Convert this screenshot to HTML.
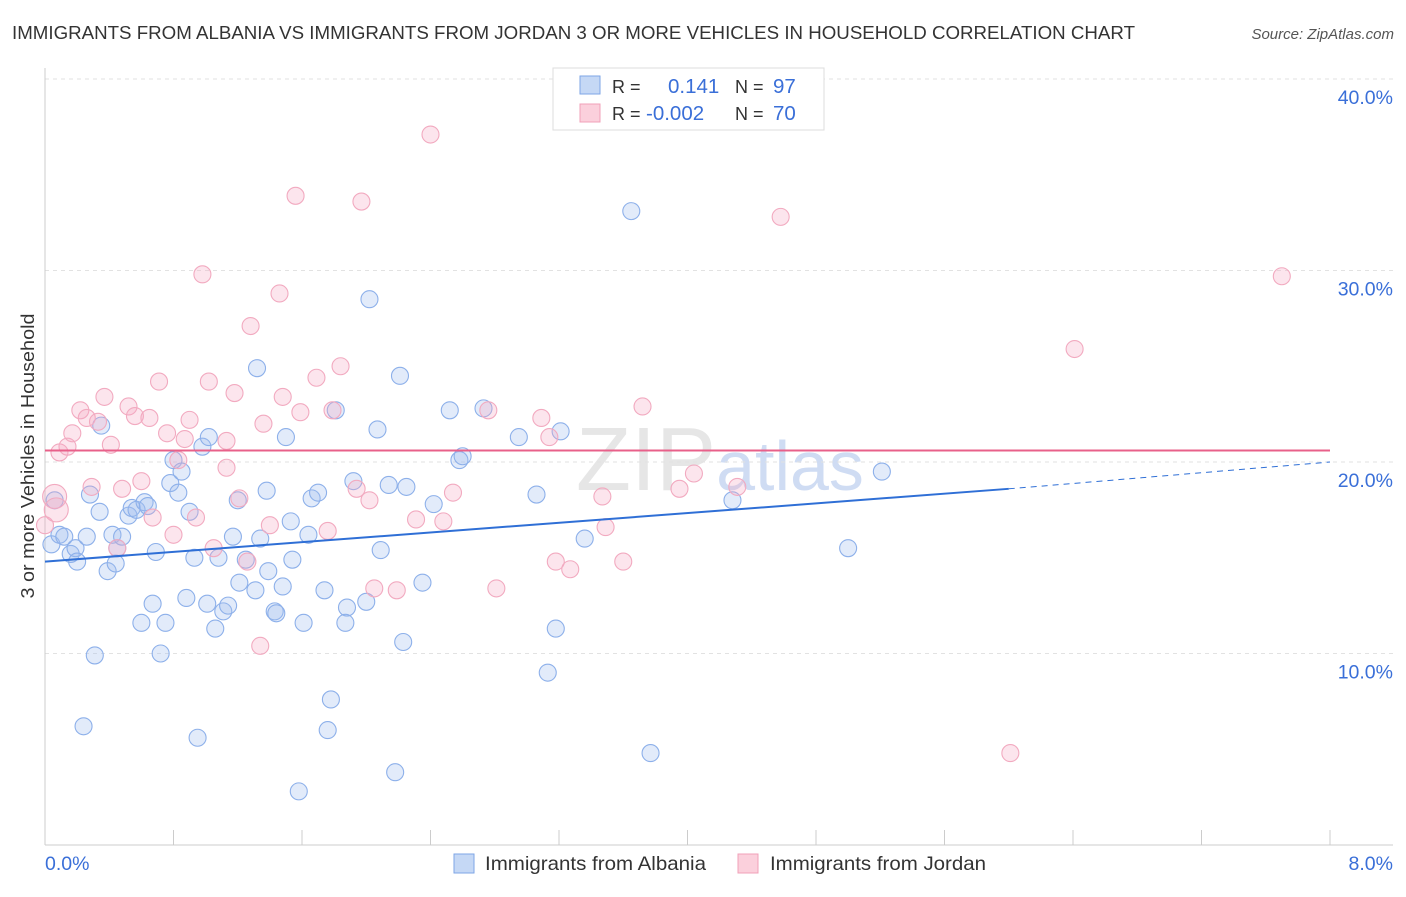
<!DOCTYPE html>
<html><head><meta charset="utf-8"><style>
body{margin:0;background:#fff;font-family:"Liberation Sans",sans-serif;}
svg text{font-family:"Liberation Sans",sans-serif;}
</style></head><body>
<svg id="chart" width="1406" height="892">
<text x="12" y="39" font-size="18.5" fill="#333" textLength="1123" lengthAdjust="spacingAndGlyphs">IMMIGRANTS FROM ALBANIA VS IMMIGRANTS FROM JORDAN 3 OR MORE VEHICLES IN HOUSEHOLD CORRELATION CHART</text>
<text x="1394" y="39" font-size="15" fill="#555" text-anchor="end" font-style="italic">Source: ZipAtlas.com</text>
<text x="720" y="490" font-size="90" fill="#e6e6e6" text-anchor="middle" font-family="Liberation Serif">ZIP<tspan fill="#cfdcf3" font-family="Liberation Sans" font-size="70">atlas</tspan></text>
<g id="grid"></g><g id="axes"></g><g id="marks"></g>
<text transform="translate(34,456) rotate(-90)" font-size="18.5" fill="#333" text-anchor="middle" textLength="285" lengthAdjust="spacingAndGlyphs">3 or more Vehicles in Household</text>
<text x="45" y="870" font-size="19.5" fill="#3a6fd8">0.0%</text>
<text x="1393" y="870" font-size="19.5" fill="#3a6fd8" text-anchor="end">8.0%</text>
<g>
<rect x="553" y="68" width="271" height="62" fill="#fff" stroke="#ddd"/>
<rect x="580" y="76" width="20" height="18" fill="#c5d8f5" stroke="#7ea6e6"/>
<rect x="580" y="104" width="20" height="18" fill="#fbd0dc" stroke="#f0a0b8"/>
<text x="612" y="93" font-size="18" fill="#333">R =</text><text x="668" y="93" font-size="20.5" fill="#3a6fd8">0.141</text>
<text x="735" y="93" font-size="18" fill="#333">N =</text><text x="773" y="93" font-size="20.5" fill="#3a6fd8">97</text>
<text x="612" y="120" font-size="18" fill="#333">R =</text><text x="646" y="120" font-size="20.5" fill="#3a6fd8">-0.002</text>
<text x="735" y="120" font-size="18" fill="#333">N =</text><text x="773" y="120" font-size="20.5" fill="#3a6fd8">70</text>
</g>
<g>
<rect x="454" y="854" width="20" height="19" fill="#c5d8f5" stroke="#7ea6e6"/>
<text x="485" y="870" font-size="19.5" fill="#333" textLength="221" lengthAdjust="spacingAndGlyphs">Immigrants from Albania</text>
<rect x="738" y="854" width="20" height="19" fill="#fbd0dc" stroke="#f0a0b8"/>
<text x="770" y="870" font-size="19.5" fill="#333" textLength="216" lengthAdjust="spacingAndGlyphs">Immigrants from Jordan</text>
</g>
</svg>
<script>
const yTicks=[10,20,30,40];
const yTickLabels=["10.0%","20.0%","30.0%","40.0%"];
const xTicks=[0,0.8,1.6,2.4,3.2,4,4.8,5.6,6.4,7.2,8];
const albaniaX=[0.04,0.06,0.09,0.12,0.16,0.19,0.2,0.26,0.28,0.31,0.24,0.34,0.35,0.39,0.42,0.44,0.45,0.48,0.52,0.54,0.57,0.6,0.62,0.64,0.67,0.69,0.72,0.75,0.78,0.8,0.83,0.85,0.88,0.9,0.93,0.95,0.98,1.01,1.02,1.06,1.08,1.11,1.14,1.17,1.2,1.21,1.25,1.31,1.32,1.34,1.38,1.39,1.43,1.44,1.48,1.5,1.53,1.54,1.58,1.61,1.64,1.66,1.7,1.74,1.76,1.78,1.81,1.88,1.87,1.92,2.0,2.02,2.07,2.09,2.14,2.18,2.21,2.23,2.25,2.35,2.42,2.52,2.58,2.6,2.73,2.95,3.06,3.13,3.18,3.21,3.36,3.65,3.77,4.28,5.0,5.21];
const albaniaY=[15.7,18.0,16.2,16.1,15.2,15.5,14.8,16.1,18.3,9.9,6.2,17.4,21.9,14.3,16.2,14.7,15.5,16.1,17.2,17.6,17.5,11.6,17.9,17.7,12.6,15.3,10.0,11.6,18.9,20.1,18.4,19.5,12.9,17.4,15.0,5.6,20.8,12.6,21.3,11.3,15.0,12.2,12.5,16.1,18.0,13.7,14.9,13.3,24.9,16.0,18.5,14.3,12.2,12.1,13.5,21.3,16.9,14.9,2.8,11.6,16.2,18.1,18.4,13.3,6.0,7.6,22.7,12.4,11.6,19.0,12.7,28.5,21.7,15.4,18.8,3.8,24.5,10.6,18.7,13.7,17.8,22.7,20.1,20.3,22.8,21.3,18.3,9.0,11.3,21.6,16.0,33.1,4.8,18.0,15.5,19.5];
const jordanX=[0,0.06,0.07,0.09,0.14,0.17,0.22,0.26,0.29,0.33,0.37,0.41,0.45,0.48,0.52,0.56,0.6,0.65,0.67,0.71,0.76,0.8,0.83,0.87,0.9,0.94,0.98,1.02,1.05,1.13,1.13,1.18,1.21,1.26,1.28,1.34,1.36,1.4,1.46,1.48,1.56,1.59,1.69,1.76,1.79,1.84,1.94,1.97,2.02,2.05,2.19,2.31,2.4,2.48,2.54,2.76,2.81,3.09,3.14,3.18,3.27,3.47,3.49,3.6,3.72,3.95,4.04,4.31,4.58,6.01,6.41,7.7];
const jordanY=[16.7,18.2,17.5,20.5,20.8,21.5,22.7,22.3,18.7,22.1,23.4,20.9,15.5,18.6,22.9,22.4,19.0,22.3,17.1,24.2,21.5,16.2,20.1,21.2,22.2,17.1,29.8,24.2,15.5,19.7,21.1,23.6,18.1,14.8,27.1,10.4,22.0,16.7,28.8,23.4,33.9,22.6,24.4,16.4,22.7,25.0,18.6,33.6,18.0,13.4,13.3,17.0,37.1,16.9,18.4,22.7,13.4,22.3,21.3,14.8,14.4,18.2,16.6,14.8,22.9,18.6,19.4,18.7,32.8,4.8,25.9,29.7];
const bigJordan=[1,2];
const albaniaTrend=[14.8,18.6,20.0];
const albaniaTrendX=[0,6.0,8.0];
const jordanTrend=20.6;

const NS="http://www.w3.org/2000/svg";
const sx=v=>45+v*(1330-45)/8;
const sy=v=>845-v*(845-79)/40;
function el(t,a,p){const e=document.createElementNS(NS,t);for(const k in a)e.setAttribute(k,a[k]);document.getElementById(p).appendChild(e);return e;}
yTicks.forEach((t,i)=>{
 const g=el('line',{x1:45,x2:1393,y1:sy(t),y2:sy(t),stroke:'#e2e2e2','stroke-dasharray':'4,4'},'grid');
 
 
 const tx=el('text',{x:1393,y:sy(t)+25,'font-size':19.5,fill:'#3a6fd8','text-anchor':'end'},'grid');
 tx.textContent=yTickLabels[i];
 
 
});
const ax=el('line',{x1:45,x2:1393,y1:845,y2:845,stroke:'#ccc'},'axes');


const ay=el('line',{x1:45,x2:45,y1:68,y2:845,stroke:'#ccc'},'axes');


xTicks.forEach(t=>{const l=el('line',{x1:sx(t),x2:sx(t),y1:830,y2:845,stroke:'#ccc'},'axes');
 
 });
albaniaX.forEach((x,i)=>{const c=el('circle',{cx:sx(x),cy:sy(albaniaY[i]),r:8.5,fill:'rgba(160,190,240,0.3)',stroke:'#8db0ea','stroke-width':1.1},'marks');
 
 });
jordanX.forEach((x,i)=>{const c=el('circle',{cx:sx(x),cy:sy(jordanY[i]),r:bigJordan.includes(i)?12:8.5,fill:'rgba(245,170,195,0.3)',stroke:'#f2aac0','stroke-width':1.1},'marks');
 
 });
const t1=el('line',{x1:sx(albaniaTrendX[0]),y1:sy(albaniaTrend[0]),x2:sx(albaniaTrendX[1]),y2:sy(albaniaTrend[1]),stroke:'#2f6fd6','stroke-width':2},'marks');


const t2=el('line',{x1:sx(albaniaTrendX[1]),y1:sy(albaniaTrend[1]),x2:sx(albaniaTrendX[2]),y2:sy(albaniaTrend[2]),stroke:'#2f6fd6','stroke-width':1,'stroke-dasharray':'6,5'},'marks');


const t3=el('line',{x1:sx(0),y1:sy(jordanTrend),x2:sx(8),y2:sy(jordanTrend),stroke:'#e8608a','stroke-width':2},'marks');


</script>
</body></html>
